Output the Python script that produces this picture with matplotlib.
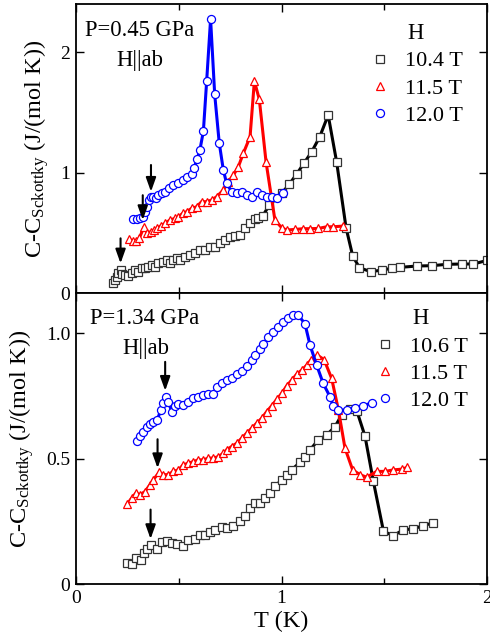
import matplotlib
matplotlib.use("Agg")
import matplotlib.pyplot as plt
from matplotlib.ticker import FixedLocator

plt.rcParams['font.family'] = ['Liberation Serif', 'DejaVu Serif']
plt.rcParams['mathtext.fontset'] = 'custom'
plt.rcParams['mathtext.rm'] = 'Liberation Serif'
plt.rcParams['mathtext.it'] = 'Liberation Serif:italic'

# ---- top panel, P = 0.45 GPa ----
t_a_104 = [0.182, 0.190, 0.198, 0.205, 0.217, 0.226, 0.238, 0.255, 0.271, 0.287,
           0.303, 0.320, 0.336, 0.352, 0.368, 0.384, 0.401, 0.425, 0.441, 0.457,
           0.474, 0.490, 0.506, 0.531, 0.555, 0.579, 0.603, 0.628, 0.652, 0.676,
           0.701, 0.725, 0.749, 0.774, 0.798, 0.822, 0.847, 0.871, 0.887, 0.909,
           0.941, 1.001, 1.038, 1.074, 1.111, 1.147, 1.186, 1.227, 1.268, 1.314,
           1.346, 1.379, 1.434, 1.491, 1.536, 1.577, 1.658, 1.731, 1.804, 1.877,
           1.934, 1.998]
c_a_104 = [0.080, 0.108, 0.135, 0.163, 0.191, 0.160, 0.149, 0.141, 0.163, 0.191,
           0.177, 0.204, 0.204, 0.218, 0.232, 0.218, 0.246, 0.260, 0.274, 0.246,
           0.274, 0.288, 0.274, 0.302, 0.315, 0.329, 0.357, 0.357, 0.385, 0.385,
           0.412, 0.440, 0.462, 0.473, 0.481, 0.537, 0.578, 0.611, 0.620, 0.642,
           0.730, 0.827, 0.904, 0.988, 1.082, 1.173, 1.297, 1.478, 1.090, 0.542,
           0.310, 0.210, 0.177, 0.191, 0.205, 0.213, 0.224, 0.227, 0.238, 0.241,
           0.241, 0.270]

t_a_115 = [0.260, 0.276, 0.292, 0.308, 0.331, 0.347, 0.363, 0.380, 0.396, 0.415,
           0.433, 0.457, 0.482, 0.498, 0.519, 0.538, 0.563, 0.587, 0.611, 0.636,
           0.660, 0.684, 0.717, 0.741, 0.766, 0.790, 0.814, 0.847, 0.868, 0.892,
           0.925, 0.968, 1.001, 1.025, 1.066, 1.106, 1.139, 1.179, 1.220, 1.252,
           1.301]
c_a_115 = [0.445, 0.434, 0.434, 0.454, 0.550, 0.495, 0.509, 0.523, 0.536, 0.560,
           0.578, 0.606, 0.620, 0.633, 0.661, 0.675, 0.703, 0.716, 0.758, 0.758,
           0.772, 0.799, 0.855, 0.924, 0.979, 1.048, 1.159, 1.297, 1.760, 1.608,
           1.085, 0.606, 0.542, 0.523, 0.528, 0.534, 0.534, 0.536, 0.550, 0.550,
           0.556]

t_a_120 = [0.276, 0.295, 0.311, 0.324, 0.336, 0.347, 0.357, 0.365, 0.376, 0.389,
           0.401, 0.417, 0.433, 0.454, 0.474, 0.498, 0.519, 0.538, 0.563, 0.574,
           0.590, 0.603, 0.620, 0.636, 0.655, 0.675, 0.697, 0.717, 0.733, 0.758,
           0.782, 0.806, 0.831, 0.855, 0.879, 0.903, 0.928, 0.952, 0.980, 1.009]
c_a_120 = [0.612, 0.612, 0.620, 0.633, 0.675, 0.716, 0.772, 0.799, 0.799, 0.786,
           0.813, 0.827, 0.841, 0.869, 0.896, 0.916, 0.938, 0.966, 0.988, 1.035,
           1.113, 1.187, 1.345, 1.763, 2.274, 1.649, 1.247, 1.021, 0.910, 0.841,
           0.827, 0.841, 0.813, 0.800, 0.841, 0.813, 0.800, 0.800, 0.786, 0.827]

# ---- bottom panel, P = 1.34 GPa ----
t_b_106 = [0.250, 0.271, 0.292, 0.315, 0.331, 0.347, 0.363, 0.396, 0.417, 0.441,
           0.466, 0.490, 0.522, 0.547, 0.579, 0.603, 0.628, 0.652, 0.676, 0.709,
           0.733, 0.766, 0.798, 0.822, 0.847, 0.871, 0.895, 0.920, 0.944, 0.968,
           1.001, 1.025, 1.049, 1.090, 1.114, 1.139, 1.179, 1.220, 1.260, 1.293,
           1.333, 1.366, 1.406, 1.447, 1.496, 1.544, 1.593, 1.642, 1.687, 1.739]
c_b_106 = [0.086, 0.083, 0.106, 0.099, 0.126, 0.142, 0.159, 0.142, 0.168, 0.172,
           0.165, 0.163, 0.152, 0.179, 0.181, 0.198, 0.198, 0.208, 0.218, 0.229,
           0.225, 0.234, 0.251, 0.271, 0.304, 0.324, 0.324, 0.344, 0.364, 0.390,
           0.417, 0.437, 0.456, 0.486, 0.509, 0.536, 0.575, 0.595, 0.628, 0.675,
           0.697, 0.692, 0.591, 0.410, 0.212, 0.194, 0.218, 0.221, 0.234, 0.245]

t_b_115 = [0.250, 0.271, 0.292, 0.311, 0.336, 0.360, 0.376, 0.405, 0.425, 0.449,
           0.474, 0.498, 0.522, 0.547, 0.571, 0.595, 0.620, 0.644, 0.668, 0.693,
           0.717, 0.733, 0.757, 0.782, 0.806, 0.830, 0.855, 0.879, 0.903, 0.928,
           0.952, 0.977, 1.001, 1.025, 1.049, 1.074, 1.098, 1.123, 1.142, 1.174,
           1.207, 1.244, 1.277, 1.309, 1.346, 1.382, 1.414, 1.463, 1.504, 1.544,
           1.585, 1.612]
c_b_115 = [0.321, 0.344, 0.364, 0.357, 0.370, 0.397, 0.417, 0.446, 0.437, 0.437,
           0.450, 0.456, 0.476, 0.483, 0.489, 0.496, 0.496, 0.503, 0.503, 0.509,
           0.522, 0.536, 0.549, 0.562, 0.582, 0.602, 0.622, 0.642, 0.661, 0.688,
           0.711, 0.737, 0.761, 0.790, 0.813, 0.837, 0.853, 0.873, 0.893, 0.913,
           0.895, 0.820, 0.694, 0.542, 0.456, 0.437, 0.427, 0.450, 0.450, 0.456,
           0.459, 0.466]

t_b_120 = [0.295, 0.311, 0.328, 0.344, 0.360, 0.376, 0.396, 0.412, 0.425, 0.438,
           0.449, 0.466, 0.482, 0.498, 0.522, 0.547, 0.571, 0.595, 0.620, 0.644,
           0.668, 0.684, 0.709, 0.733, 0.757, 0.782, 0.806, 0.830, 0.855, 0.871,
           0.895, 0.912, 0.936, 0.960, 0.985, 1.009, 1.033, 1.054, 1.082, 1.114,
           1.139, 1.171, 1.203, 1.236, 1.252, 1.277, 1.317, 1.358, 1.398, 1.439]
c_b_120 = [0.573, 0.589, 0.608, 0.628, 0.639, 0.648, 0.655, 0.694, 0.721, 0.747,
           0.728, 0.688, 0.710, 0.718, 0.714, 0.728, 0.741, 0.747, 0.754, 0.758,
           0.758, 0.784, 0.803, 0.813, 0.820, 0.837, 0.851, 0.869, 0.893, 0.913,
           0.939, 0.956, 0.985, 1.005, 1.025, 1.045, 1.062, 1.071, 1.071, 1.038,
           0.952, 0.873, 0.800, 0.747, 0.710, 0.694, 0.694, 0.701, 0.710, 0.724]

# arrows: (T, C_start, C_end)
arrows_a = [(0.217, 0.454, 0.246), (0.325, 0.812, 0.606), (0.365, 1.063, 0.841)]
arrows_b = [(0.363, 0.298, 0.181), (0.397, 0.578, 0.463), (0.434, 0.886, 0.771)]

labels_a = ['10.4 T', '11.5 T', '12.0 T']
labels_b = ['10.6 T', '11.5 T', '12.0 T']

FS = 16.3      # annotation text
GFS = 16       # legend text
TFS = 14       # tick labels
LFS = 17.5     # axis labels
ylabel = r'C-C$_{\mathrm{Sckottky}}$ (J/(mol K))'

fig = plt.figure(figsize=(4.9, 6.42), dpi=100)
ax1 = fig.add_axes([0.155, 0.5436, 0.839, 0.4502])
ax2 = fig.add_axes([0.155, 0.0896, 0.839, 0.4540])


def draw(ax, series, labels):
    styles = [('s', 'black', '#333333', 5.2), ('^', 'red', 'red', 6.2),
              ('o', 'blue', 'blue', 5.8)]
    for (t, c), lab, (m, col, edge, ms) in zip(series, labels, styles):
        ax.plot(t, c, color=col, lw=2.2, marker=m, ms=ms,
                mfc='white', mec=edge, mew=0.9, label=lab)


def style(ax, ymax, yticks, yticklabels, xlabels):
    ax.set_xlim(0, 2)
    ax.set_ylim(0, ymax)
    ax.xaxis.set_major_locator(FixedLocator([0, 1, 2]))
    ax.xaxis.set_minor_locator(FixedLocator([0.5, 1.5]))
    ax.yaxis.set_major_locator(FixedLocator(yticks))
    ax.set_yticklabels(yticklabels)
    if not xlabels:
        ax.set_xticklabels([])
    ax.tick_params(which='both', direction='in', top=True, right=True,
                   labelsize=TFS, width=1)
    ax.tick_params(which='major', length=6, pad=4)
    ax.tick_params(which='minor', length=4)
    for sp in ax.spines.values():
        sp.set_linewidth(1.3)
    ax.set_ylabel(ylabel, fontsize=LFS, labelpad=7)


def arrows(ax, arr):
    for t, c0, c1 in arr:
        ax.annotate('', xy=(t, c1), xytext=(t, c0),
                    arrowprops=dict(arrowstyle='-|>,head_width=0.25,head_length=0.7',
                                    color='black', lw=1.5,
                                    mutation_scale=12, shrinkA=0, shrinkB=0))


draw(ax1, [(t_a_104, c_a_104), (t_a_115, c_a_115), (t_a_120, c_a_120)], labels_a)
draw(ax2, [(t_b_106, c_b_106), (t_b_115, c_b_115), (t_b_120, c_b_120)], labels_b)
style(ax1, 2.4, [0, 1, 2], ['0', '1', '2'], False)
style(ax2, 1.16, [0, 0.5, 1.0], ['0', '0.5', '1.0'], True)
arrows(ax1, arrows_a)
arrows(ax2, arrows_b)
ax2.set_xlabel('T (K)', fontsize=LFS, labelpad=3)

ax1.text(0.022, 0.945, 'P=0.45 GPa', transform=ax1.transAxes, fontsize=FS, va='top')
ax1.text(0.098, 0.84, 'H||ab', transform=ax1.transAxes, fontsize=FS, va='top')
ax2.text(0.033, 0.95, 'P=1.34 GPa', transform=ax2.transAxes, fontsize=FS, va='top')
ax2.text(0.113, 0.845, 'H||ab', transform=ax2.transAxes, fontsize=FS, va='top')

for ax, anchor in ((ax1, (0.985, 0.995)), (ax2, (0.997, 1.008))):
    leg = ax.legend(loc='upper right', bbox_to_anchor=anchor, frameon=False,
                    title='H', fontsize=GFS, title_fontsize=FS, handlelength=1.0,
                    handletextpad=0.65, labelspacing=0.3, borderpad=0.3)
    for h in leg.legend_handles:
        h.set_linestyle('none')

fig.savefig('out.png', dpi=100)
